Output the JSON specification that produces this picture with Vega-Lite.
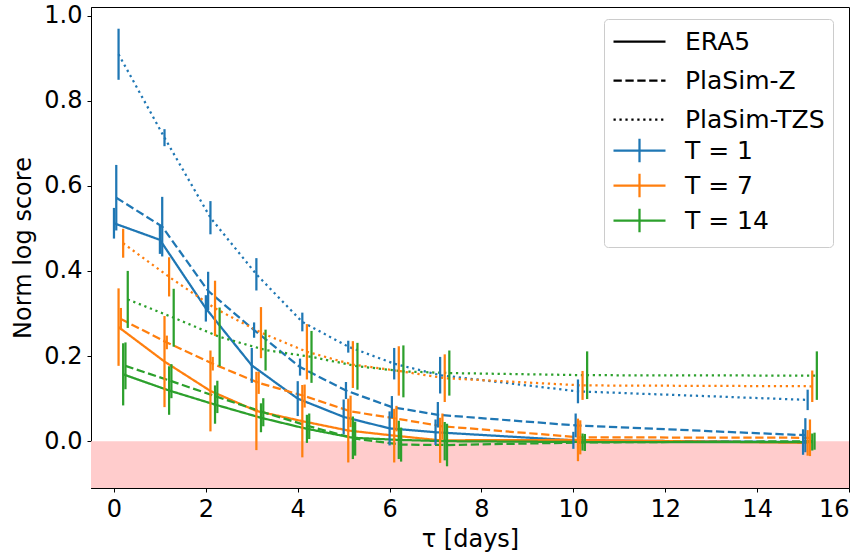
{
  "$schema": "https://vega.github.io/schema/vega-lite/v6.json",
  "width": 758,
  "height": 481,
  "autosize": {"type": "none"},
  "padding": {"left": 91, "top": 7, "right": 18, "bottom": 68},
  "config": {
    "font": "DejaVu Sans",
    "view": {"stroke": "black", "strokeWidth": 1},
    "axis": {
      "grid": false,
      "domainColor": "black",
      "tickColor": "black",
      "tickSize": 4,
      "labelColor": "black",
      "labelFontSize": 24,
      "titleFontSize": 24,
      "titleFontWeight": "normal",
      "titleColor": "black",
      "labelPadding": 5
    }
  },
  "datasets": {
    "band": [{"lo": 0}],
    "scores": [
      {"ds": "ERA5", "T": "T = 1", "tau": 0, "score": 0.512, "err": 0.036},
      {"ds": "ERA5", "T": "T = 1", "tau": 1, "score": 0.473, "err": 0.033},
      {"ds": "ERA5", "T": "T = 1", "tau": 2, "score": 0.312, "err": 0.031},
      {"ds": "ERA5", "T": "T = 1", "tau": 3, "score": 0.178, "err": 0.041},
      {"ds": "ERA5", "T": "T = 1", "tau": 4, "score": 0.100, "err": 0.041},
      {"ds": "ERA5", "T": "T = 1", "tau": 5, "score": 0.057, "err": 0.041},
      {"ds": "ERA5", "T": "T = 1", "tau": 6, "score": 0.030, "err": 0.040},
      {"ds": "ERA5", "T": "T = 1", "tau": 7, "score": 0.021, "err": 0.030},
      {"ds": "ERA5", "T": "T = 1", "tau": 10, "score": 0.002, "err": 0.020},
      {"ds": "ERA5", "T": "T = 1", "tau": 15, "score": -0.002, "err": 0.030},
      {"ds": "PlaSim-Z", "T": "T = 1", "tau": 0.05, "score": 0.572, "err": 0.077},
      {"ds": "PlaSim-Z", "T": "T = 1", "tau": 1.05, "score": 0.504, "err": 0.070},
      {"ds": "PlaSim-Z", "T": "T = 1", "tau": 2.05, "score": 0.353, "err": 0.045},
      {"ds": "PlaSim-Z", "T": "T = 1", "tau": 3.05, "score": 0.261, "err": 0.018},
      {"ds": "PlaSim-Z", "T": "T = 1", "tau": 4.05, "score": 0.174, "err": 0.020},
      {"ds": "PlaSim-Z", "T": "T = 1", "tau": 5.05, "score": 0.119, "err": 0.020},
      {"ds": "PlaSim-Z", "T": "T = 1", "tau": 6.05, "score": 0.080, "err": 0.026},
      {"ds": "PlaSim-Z", "T": "T = 1", "tau": 7.05, "score": 0.062, "err": 0.030},
      {"ds": "PlaSim-Z", "T": "T = 1", "tau": 10.05, "score": 0.037, "err": 0.028},
      {"ds": "PlaSim-Z", "T": "T = 1", "tau": 15.05, "score": 0.014, "err": 0.040},
      {"ds": "PlaSim-TZS", "T": "T = 1", "tau": 0.1, "score": 0.909, "err": 0.060},
      {"ds": "PlaSim-TZS", "T": "T = 1", "tau": 1.1, "score": 0.713, "err": 0.020},
      {"ds": "PlaSim-TZS", "T": "T = 1", "tau": 2.1, "score": 0.525, "err": 0.039},
      {"ds": "PlaSim-TZS", "T": "T = 1", "tau": 3.1, "score": 0.392, "err": 0.038},
      {"ds": "PlaSim-TZS", "T": "T = 1", "tau": 4.1, "score": 0.280, "err": 0.022},
      {"ds": "PlaSim-TZS", "T": "T = 1", "tau": 5.1, "score": 0.222, "err": 0.014},
      {"ds": "PlaSim-TZS", "T": "T = 1", "tau": 6.1, "score": 0.182, "err": 0.037},
      {"ds": "PlaSim-TZS", "T": "T = 1", "tau": 7.1, "score": 0.155, "err": 0.043},
      {"ds": "PlaSim-TZS", "T": "T = 1", "tau": 10.1, "score": 0.117, "err": 0.028},
      {"ds": "PlaSim-TZS", "T": "T = 1", "tau": 15.1, "score": 0.097, "err": 0.024},
      {"ds": "ERA5", "T": "T = 7", "tau": 0.1, "score": 0.268, "err": 0.091},
      {"ds": "ERA5", "T": "T = 7", "tau": 1.1, "score": 0.187, "err": 0.107},
      {"ds": "ERA5", "T": "T = 7", "tau": 2.1, "score": 0.118, "err": 0.095},
      {"ds": "ERA5", "T": "T = 7", "tau": 3.1, "score": 0.071, "err": 0.092},
      {"ds": "ERA5", "T": "T = 7", "tau": 4.1, "score": 0.047, "err": 0.085},
      {"ds": "ERA5", "T": "T = 7", "tau": 5.1, "score": 0.025, "err": 0.075},
      {"ds": "ERA5", "T": "T = 7", "tau": 6.1, "score": 0.013, "err": 0.063},
      {"ds": "ERA5", "T": "T = 7", "tau": 7.1, "score": 0.002, "err": 0.053},
      {"ds": "ERA5", "T": "T = 7", "tau": 10.1, "score": 0.003, "err": 0.050},
      {"ds": "ERA5", "T": "T = 7", "tau": 15.1, "score": -0.004, "err": 0.030},
      {"ds": "PlaSim-Z", "T": "T = 7", "tau": 0.15, "score": 0.287, "err": 0.026},
      {"ds": "PlaSim-Z", "T": "T = 7", "tau": 1.15, "score": 0.232, "err": 0.016},
      {"ds": "PlaSim-Z", "T": "T = 7", "tau": 2.15, "score": 0.182, "err": 0.016},
      {"ds": "PlaSim-Z", "T": "T = 7", "tau": 3.15, "score": 0.137, "err": 0.026},
      {"ds": "PlaSim-Z", "T": "T = 7", "tau": 4.15, "score": 0.106, "err": 0.027},
      {"ds": "PlaSim-Z", "T": "T = 7", "tau": 5.15, "score": 0.070, "err": 0.037},
      {"ds": "PlaSim-Z", "T": "T = 7", "tau": 6.15, "score": 0.053, "err": 0.030},
      {"ds": "PlaSim-Z", "T": "T = 7", "tau": 7.15, "score": 0.035, "err": 0.030},
      {"ds": "PlaSim-Z", "T": "T = 7", "tau": 10.15, "score": 0.009, "err": 0.040},
      {"ds": "PlaSim-Z", "T": "T = 7", "tau": 15.15, "score": 0.008, "err": 0.043},
      {"ds": "PlaSim-TZS", "T": "T = 7", "tau": 0.2, "score": 0.465, "err": 0.034},
      {"ds": "PlaSim-TZS", "T": "T = 7", "tau": 1.2, "score": 0.386, "err": 0.046},
      {"ds": "PlaSim-TZS", "T": "T = 7", "tau": 2.2, "score": 0.312, "err": 0.065},
      {"ds": "PlaSim-TZS", "T": "T = 7", "tau": 3.2, "score": 0.255, "err": 0.060},
      {"ds": "PlaSim-TZS", "T": "T = 7", "tau": 4.2, "score": 0.210, "err": 0.065},
      {"ds": "PlaSim-TZS", "T": "T = 7", "tau": 5.2, "score": 0.180, "err": 0.055},
      {"ds": "PlaSim-TZS", "T": "T = 7", "tau": 6.2, "score": 0.165, "err": 0.058},
      {"ds": "PlaSim-TZS", "T": "T = 7", "tau": 7.2, "score": 0.148, "err": 0.056},
      {"ds": "PlaSim-TZS", "T": "T = 7", "tau": 10.2, "score": 0.131, "err": 0.034},
      {"ds": "PlaSim-TZS", "T": "T = 7", "tau": 15.2, "score": 0.129, "err": 0.037},
      {"ds": "ERA5", "T": "T = 14", "tau": 0.2, "score": 0.157, "err": 0.073},
      {"ds": "ERA5", "T": "T = 14", "tau": 1.2, "score": 0.119, "err": 0.057},
      {"ds": "ERA5", "T": "T = 14", "tau": 2.2, "score": 0.086, "err": 0.045},
      {"ds": "ERA5", "T": "T = 14", "tau": 3.2, "score": 0.055, "err": 0.034},
      {"ds": "ERA5", "T": "T = 14", "tau": 4.2, "score": 0.029, "err": 0.033},
      {"ds": "ERA5", "T": "T = 14", "tau": 5.2, "score": 0.008, "err": 0.050},
      {"ds": "ERA5", "T": "T = 14", "tau": 6.2, "score": 0.003, "err": 0.045},
      {"ds": "ERA5", "T": "T = 14", "tau": 7.2, "score": 0.000, "err": 0.045},
      {"ds": "ERA5", "T": "T = 14", "tau": 10.2, "score": -0.002, "err": 0.020},
      {"ds": "ERA5", "T": "T = 14", "tau": 15.2, "score": -0.002, "err": 0.020},
      {"ds": "PlaSim-Z", "T": "T = 14", "tau": 0.25, "score": 0.177, "err": 0.055},
      {"ds": "PlaSim-Z", "T": "T = 14", "tau": 1.25, "score": 0.141, "err": 0.040},
      {"ds": "PlaSim-Z", "T": "T = 14", "tau": 2.25, "score": 0.104, "err": 0.038},
      {"ds": "PlaSim-Z", "T": "T = 14", "tau": 3.25, "score": 0.068, "err": 0.033},
      {"ds": "PlaSim-Z", "T": "T = 14", "tau": 4.25, "score": 0.035, "err": 0.030},
      {"ds": "PlaSim-Z", "T": "T = 14", "tau": 5.25, "score": 0.006, "err": 0.040},
      {"ds": "PlaSim-Z", "T": "T = 14", "tau": 6.25, "score": -0.008, "err": 0.040},
      {"ds": "PlaSim-Z", "T": "T = 14", "tau": 7.25, "score": -0.009, "err": 0.050},
      {"ds": "PlaSim-Z", "T": "T = 14", "tau": 10.25, "score": -0.003, "err": 0.020},
      {"ds": "PlaSim-Z", "T": "T = 14", "tau": 15.25, "score": 0.000, "err": 0.020},
      {"ds": "PlaSim-TZS", "T": "T = 14", "tau": 0.3, "score": 0.333, "err": 0.067},
      {"ds": "PlaSim-TZS", "T": "T = 14", "tau": 1.3, "score": 0.290, "err": 0.068},
      {"ds": "PlaSim-TZS", "T": "T = 14", "tau": 2.3, "score": 0.245, "err": 0.069},
      {"ds": "PlaSim-TZS", "T": "T = 14", "tau": 3.3, "score": 0.214, "err": 0.048},
      {"ds": "PlaSim-TZS", "T": "T = 14", "tau": 4.3, "score": 0.198, "err": 0.061},
      {"ds": "PlaSim-TZS", "T": "T = 14", "tau": 5.3, "score": 0.176, "err": 0.055},
      {"ds": "PlaSim-TZS", "T": "T = 14", "tau": 6.3, "score": 0.164, "err": 0.061},
      {"ds": "PlaSim-TZS", "T": "T = 14", "tau": 7.3, "score": 0.160, "err": 0.053},
      {"ds": "PlaSim-TZS", "T": "T = 14", "tau": 10.3, "score": 0.155, "err": 0.056},
      {"ds": "PlaSim-TZS", "T": "T = 14", "tau": 15.3, "score": 0.154, "err": 0.057}
    ]
  },
  "layer": [
    {
      "data": {"name": "band"},
      "mark": {"type": "rect", "color": "#ffcccc"},
      "encoding": {
        "y": {"field": "lo", "type": "quantitative", "title": "Norm log score", "scale": {"domain": [-0.11, 1.02], "nice": false, "zero": false}},
        "y2": {"datum": -0.11}
      }
    },
    {
      "data": {"name": "scores"},
      "mark": {"type": "line", "strokeWidth": 2.25, "strokeCap": "butt", "clip": true},
      "encoding": {
        "x": {"field": "tau", "type": "quantitative", "title": "τ [days]",
              "scale": {"domain": [-0.5, 16], "nice": false, "zero": false},
              "axis": {"values": [0, 2, 4, 6, 8, 10, 12, 14, 16], "titlePadding": 6}},
        "y": {"field": "score", "type": "quantitative", "title": "Norm log score",
              "scale": {"domain": [-0.11, 1.02], "nice": false, "zero": false},
              "axis": {"values": [0, 0.2, 0.4, 0.6, 0.8, 1.0], "format": ".1f", "titlePadding": 8}},
        "color": {"field": "T", "type": "nominal",
                  "scale": {"domain": ["T = 1", "T = 7", "T = 14"], "range": ["#1f77b4", "#ff7f0e", "#2ca02c"]},
                  "legend": {"orient": "none", "legendX": 513, "legendY": 121, "title": null,
                             "symbolType": "M-2,0H2M0,-0.9V0.9", "symbolSize": 676, "symbolStrokeWidth": 2.25,
                             "symbolFillColor": "transparent", "symbolOffset": 13,
                             "labelFontSize": 25, "labelColor": "black", "labelOffset": 31, "rowPadding": 2, "padding": 8}},
        "strokeDash": {"field": "ds", "type": "nominal",
                  "scale": {"domain": ["ERA5", "PlaSim-Z", "PlaSim-TZS"], "range": [[1, 0], [8.3, 3.6], [2.25, 3.7]]},
                  "legend": {"orient": "none", "legendX": 513, "legendY": 12, "title": " ", "titleOrient": "bottom",
                             "titleFontSize": 22, "titlePadding": 85,
                             "symbolType": "M-2,0H2", "symbolSize": 676, "symbolStrokeWidth": 2.25,
                             "symbolStrokeColor": "black", "symbolFillColor": "transparent", "symbolOffset": 13,
                             "labelFontSize": 25, "labelColor": "black", "labelOffset": 31, "rowPadding": 11, "padding": 8,
                             "strokeColor": "#cccccc", "cornerRadius": 4}}
      }
    },
    {
      "data": {"name": "scores"},
      "mark": {"type": "errorbar", "rule": {"strokeWidth": 2.25}, "clip": true},
      "encoding": {
        "x": {"field": "tau", "type": "quantitative", "title": "τ [days]"},
        "y": {"field": "score", "type": "quantitative", "title": "Norm log score"},
        "yError": {"field": "err"},
        "color": {"field": "T", "type": "nominal"}
      }
    }
  ]
}
